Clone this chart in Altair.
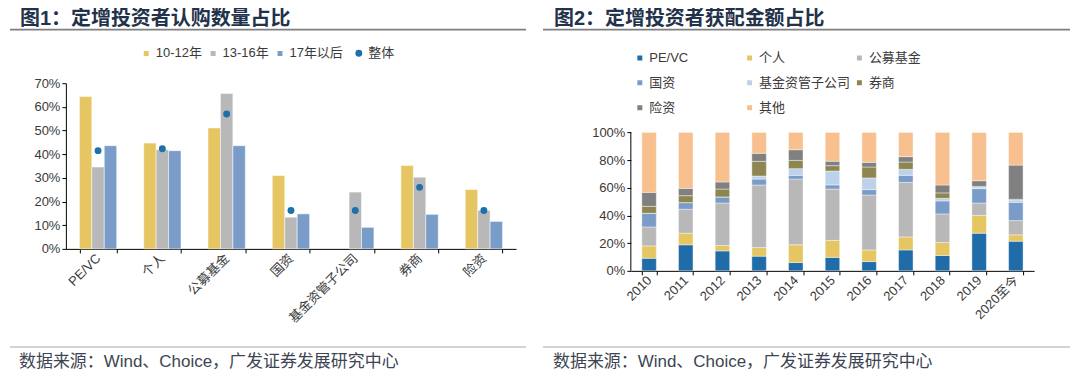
import altair as alt
import pandas as pd

FONT = "Liberation Sans, Noto Sans CJK SC"
TITLE_COLOR = "#22324A"
TEXT_COLOR = "#3A3A3A"
NOTE_COLOR = "#3D4552"

# ---------------- Figure 1 data ----------------
cats1 = ["PE/VC", "个人", "公募基金", "国资", "基金资管子公司", "券商", "险资"]
periods = ["10-12年", "13-16年", "17年以后"]
v_1012 = [64.4, 44.7, 51.1, 31.0, 0.0, 35.2, 25.1]
v_1316 = [34.6, 41.9, 65.6, 13.4, 24.0, 30.3, 16.3]
v_17 = [43.6, 41.5, 43.6, 14.8, 9.1, 14.6, 11.6]
overall = [41.5, 42.3, 57.0, 16.2, 16.2, 26.0, 16.2]
colors1 = ["#E5C662", "#B8B8B8", "#7A9CC9"]
dot_color = "#1F6FAB"

# ---------------- Figure 2 data ----------------
years = ["2010", "2011", "2012", "2013", "2014", "2015", "2016", "2017", "2018", "2019", "2020至今"]
groups2 = ["PE/VC", "个人", "公募基金", "国资", "基金资管子公司", "券商", "险资", "其他"]
s_pevc = [9.1, 18.8, 14.4, 10.6, 6.0, 9.7, 6.7, 15.1, 11.1, 27.2, 21.4]
s_indiv = [8.9, 8.4, 3.9, 6.2, 12.8, 12.3, 8.4, 9.4, 9.3, 12.9, 4.6]
s_fund = [13.7, 17.3, 30.7, 45.2, 47.5, 37.1, 39.7, 39.4, 20.7, 8.9, 10.3]
s_state = [9.9, 4.8, 4.4, 4.3, 2.7, 3.0, 3.9, 5.1, 9.4, 10.4, 13.2]
s_sub = [0.0, 0.0, 0.0, 2.2, 4.8, 10.0, 8.4, 4.3, 1.9, 1.2, 1.7]
s_broker = [5.0, 5.0, 5.7, 10.6, 6.0, 3.9, 7.9, 5.3, 3.9, 0.4, 0.5]
s_insur = [10.1, 5.3, 5.1, 5.8, 7.7, 3.2, 3.4, 3.9, 5.7, 4.1, 24.7]
s_other = [43.3, 40.4, 35.8, 15.1, 12.5, 20.8, 21.6, 17.5, 38.0, 34.9, 23.6]
colors2 = ["#1F6CA8", "#E5C662", "#B8B8B8", "#7A9CC9", "#BDD1EA", "#8E8650", "#808080", "#F8C08F"]

title1 = "图1：定增投资者认购数量占比"
title2 = "图2：定增投资者获配金额占比"
note = "数据来源：Wind、Choice，广发证券发展研究中心"

# ---------------- layout constants ----------------
W1, H1 = 451, 166
W2 = 404
H2 = 188
Y2MAX = 188 / 138.7

one = alt.Data(values=[{"a": 0}])


def decorations(dx_title, x_left, x_right, title):
    t = alt.Chart(one).mark_text(
        text=title, align="left", baseline="middle", font=FONT, fontSize=20,
        fontWeight="bold", color=TITLE_COLOR
    ).encode(x=alt.value(dx_title), y=alt.value(-64))
    top = alt.Chart(one).mark_rule(color="#7F7F7F", strokeWidth=1.6).encode(
        x=alt.value(x_left), x2=alt.value(x_right), y=alt.value(-53.7))
    bot = alt.Chart(one).mark_rule(color="#C4C4C4", strokeWidth=1.5).encode(
        x=alt.value(x_left), x2=alt.value(x_right), y=alt.value(264.3))
    n = alt.Chart(one).mark_text(
        text=note, align="left", baseline="middle", font=FONT, fontSize=17,
        color=NOTE_COLOR
    ).encode(x=alt.value(dx_title - 1), y=alt.value(279.5))
    return [t, top, bot, n]


# ---------------- panel 1 ----------------
rows1 = []
for i, c in enumerate(cats1):
    for p, arr in zip(periods, [v_1012, v_1316, v_17]):
        rows1.append({"cat": c, "period": p, "v": arr[i] / 100})
df1 = pd.DataFrame(rows1)
df1p = pd.DataFrame({"cat": cats1, "v": [o / 100 for o in overall], "s": ["整体"] * len(cats1)})

xaxis1 = alt.Axis(labelAngle=315, labelAlign="right", labelBaseline="middle",
                  tickBand="extent", labelPadding=3, labelFontSize=13)
yaxis1 = alt.Axis(values=[0, 0.1, 0.2, 0.3, 0.4, 0.5, 0.6, 0.7], format=".0%", labelOverlap=False)
yscale1 = alt.Scale(domain=[0, 0.7], nice=False)
xscale1 = alt.Scale(paddingInner=0.42, paddingOuter=0.21)

bars1 = alt.Chart(df1).transform_filter("datum.v > 0").mark_bar(
    stroke="white", strokeWidth=0.5
).encode(
    x=alt.X("cat:N", sort=cats1, title=None, scale=xscale1, axis=xaxis1),
    xOffset=alt.XOffset("period:N", sort=periods,
                        scale=alt.Scale(domain=periods, paddingInner=0, paddingOuter=0)),
    y=alt.Y("v:Q", title=None, scale=yscale1, axis=yaxis1),
    color=alt.Color("period:N",
                    scale=alt.Scale(domain=periods, range=colors1),
                    legend=alt.Legend(orient="none", legendX=74, legendY=-36.5, direction="horizontal",
                                      title=None, symbolType="square", symbolSize=42,
                                      columnPadding=4, labelFontSize=13, labelFont=FONT,
                                      labelColor=TEXT_COLOR, padding=0, labelOffset=3)),
)

pts1 = alt.Chart(df1p).mark_point(filled=True, size=48, opacity=1).encode(
    x=alt.X("cat:N", sort=cats1, title=None, scale=xscale1, axis=xaxis1),
    y=alt.Y("v:Q", title=None, scale=yscale1, axis=yaxis1),
    color=alt.Color("s:N", scale=alt.Scale(domain=["整体"], range=[dot_color]),
                    legend=alt.Legend(orient="none", legendX=287, legendY=-36.5, title=None,
                                      symbolType="circle", symbolSize=48, labelFontSize=13,
                                      labelFont=FONT, labelColor=TEXT_COLOR, padding=0,
                                      labelOffset=3)),
)

panel1 = alt.layer(bars1, pts1, *decorations(-46, -56, 461, title1)).resolve_scale(
    color="independent").properties(width=W1, height=H1)

# ---------------- panel 2 ----------------
series2 = [s_pevc, s_indiv, s_fund, s_state, s_sub, s_broker, s_insur, s_other]
rows2 = []
for gi, (g, arr) in enumerate(zip(groups2, series2)):
    for yi, y in enumerate(years):
        rows2.append({"year": y, "grp": g, "idx": gi, "v": arr[yi]})
df2 = pd.DataFrame(rows2)

yaxis2 = alt.Axis(values=[0, 0.2, 0.4, 0.6, 0.8, 1.0], format=".0%", domain=False, labelOverlap=False)
yscale2 = alt.Scale(domain=[0, Y2MAX], nice=False)

bars2 = alt.Chart(df2).transform_calculate(f="datum.v / 100").mark_bar(
    stroke="white", strokeWidth=0.4
).encode(
    x=alt.X("year:N", sort=years, title=None,
            scale=alt.Scale(paddingInner=0.605, paddingOuter=0.3),
            axis=alt.Axis(labelAngle=315, labelAlign="right", labelBaseline="middle",
                          tickBand="extent", labelPadding=3, labelFontSize=13)),
    y=alt.Y("f:Q", stack="zero", title=None, scale=yscale2, axis=yaxis2),
    color=alt.Color("grp:N", scale=alt.Scale(domain=groups2, range=colors2),
                    legend=alt.Legend(orient="none", legendX=2.5, legendY=-32, columns=3,
                                      direction="horizontal",
                                      gridAlign="all", title=None, symbolType="square",
                                      symbolSize=42, columnPadding=2, rowPadding=11,
                                      labelFontSize=13, labelFont=FONT, labelColor=TEXT_COLOR,
                                      padding=0, labelOffset=3)),
    order=alt.Order("idx:Q"),
)

yline = alt.Chart(alt.Data(values=[{"a": 0, "b": 1}])).mark_rule(color="black", strokeWidth=1).encode(
    x=alt.value(0), y=alt.Y("a:Q", title=None, scale=yscale2, axis=yaxis2), y2="b:Q")

panel2 = alt.layer(bars2, yline, *decorations(-77, -88, 440, title2)).properties(width=W2, height=H2)

chart = alt.hconcat(panel1, panel2, spacing=115, bounds="flush").resolve_scale(
    color="independent"
).properties(padding=0).configure(font=FONT).configure_view(stroke="transparent").configure_axis(
    grid=False, labelFont=FONT, labelColor=TEXT_COLOR, labelFontSize=13,
    domainColor="#000000", tickColor="#000000", tickSize=4, domainWidth=1, tickWidth=1
)

chart.save("out.html", embed_options={"renderer": "svg", "actions": False})
